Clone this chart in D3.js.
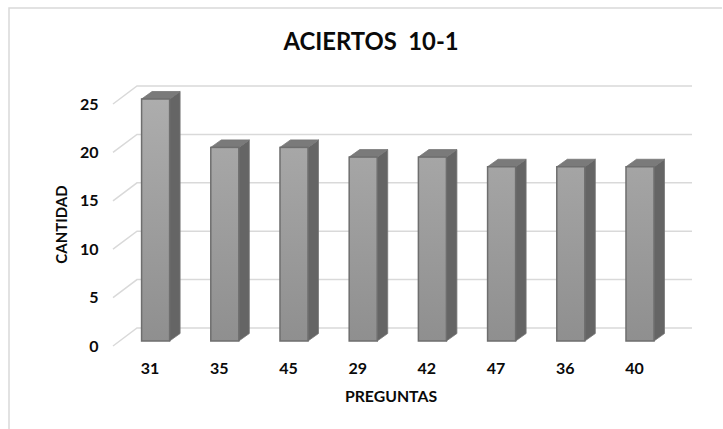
<!DOCTYPE html>
<html><head><meta charset="utf-8">
<script src="https://cdn.jsdelivr.net/npm/d3@7/dist/d3.min.js"></script>
<style>html,body{margin:0;padding:0;background:#fff}svg{display:block}text{font-family:Lato,"Open Sans",sans-serif;font-weight:700;fill:#0a0a0a;white-space:pre}</style>
</head><body><script>
const categories=["31","35","45","29","42","47","36","40"];
const values=[25,20,20,19,19,18,18,18];
const yTicks=[0,5,10,15,20,25];
const W=723,H=429;
const svg=d3.select("body").append("svg").attr("width",W).attr("height",H);
const defs=svg.append("defs");
const g=defs.append("linearGradient").attr("id","front").attr("gradientUnits","userSpaceOnUse")
 .attr("x1",0).attr("x2",0).attr("y1",99).attr("y2",341);
g.append("stop").attr("offset",0).attr("stop-color","#adadad");
g.append("stop").attr("offset",1).attr("stop-color","#8f8f8f");
const y=d3.scaleLinear().domain([0,25]).range([341,99]);
const x=d3.scaleBand().domain(categories).range([121,674.6]).paddingInner(0.595).paddingOuter(0.2975);
const wall={dx:24,dy:18,front:5};
const grid="#d9d9d9";
svg.append("path").attr("d",`M9,429V8H722`).attr("fill","none").attr("stroke",grid).attr("stroke-width",1.5);
yTicks.forEach(t=>{
 const yf=y(t)+wall.front;
 svg.append("path").attr("fill","none").attr("stroke",grid).attr("stroke-width",1.5)
  .attr("d",`M113,${yf}L${113+wall.dx},${yf-wall.dy}H692`);
 svg.append("text").attr("x",98.5).attr("y",yf+5.5).attr("text-anchor","end").attr("font-size",16).text(t);
});
const bw=x.bandwidth(),dx=10.5,dy=7.5;
categories.forEach((c,i)=>{
 const v=values[i],l=x(c),r=l+bw,t=y(v),b=y(0);
 const stroke="#6e6e6e";
 svg.append("path").attr("d",`M${r},${t}L${r+dx},${t-dy}V${b-dy}L${r},${b}Z`).attr("fill","#656565").attr("stroke","#777").attr("stroke-width",.8);
 svg.append("path").attr("d",`M${l},${t}L${l+dx},${t-dy}H${r+dx}L${r},${t}Z`).attr("fill","#7a7a7a").attr("stroke","#777").attr("stroke-width",.8);
 svg.append("rect").attr("x",l).attr("y",t).attr("width",bw).attr("height",b-t).attr("fill","url(#front)").attr("stroke",stroke).attr("stroke-width",1.5);
 svg.append("text").attr("x",l+8.5).attr("y",374).attr("text-anchor","middle").attr("font-size",16).text(c);
});
svg.append("text").attr("x",371).attr("y",49.5).attr("text-anchor","middle").attr("font-size",23.8).text("ACIERTOS  10-1");
svg.append("text").attr("x",391).attr("y",402).attr("text-anchor","middle").attr("font-size",15.8).text("PREGUNTAS");
svg.append("text").attr("transform","translate(67,224.5) rotate(-90)").attr("text-anchor","middle").attr("font-size",15).text("CANTIDAD");
</script></body></html>
